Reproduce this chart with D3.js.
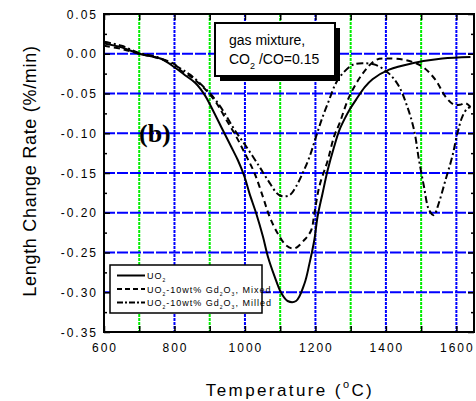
<!DOCTYPE html>
<html><head><meta charset="utf-8">
<script src="https://cdn.jsdelivr.net/npm/d3@7"></script>
<style>body{margin:0;background:#fff}svg{display:block}</style>
</head><body>
<svg id="chart" width="476" height="401"></svg>
<script>
// Axis ticks
const xTicks = [600, 800, 1000, 1200, 1400, 1600];
const xGridGreen = [700, 900, 1100, 1300, 1500];
const xGridBlue = [800, 1000, 1200, 1400, 1600];
const yTicks = [0.05, 0.00, -0.05, -0.10, -0.15, -0.20, -0.25, -0.30, -0.35];
const yGrid = [0.00, -0.05, -0.10, -0.15, -0.20, -0.25, -0.30];

// UO2 (solid)
const uo2Temp = [600, 650, 700, 760, 800, 830, 860, 886, 910, 937, 961, 980, 999, 1013, 1032, 1051, 1065, 1084, 1103, 1121, 1145, 1169, 1183, 1197, 1206, 1220, 1235, 1253, 1268, 1285, 1296, 1315, 1340, 1362, 1409, 1475, 1560, 1640];
const uo2Rate = [0.013, 0.008, 0.000, -0.006, -0.017, -0.027, -0.037, -0.052, -0.072, -0.096, -0.117, -0.134, -0.155, -0.176, -0.201, -0.230, -0.255, -0.280, -0.301, -0.311, -0.311, -0.289, -0.264, -0.234, -0.205, -0.176, -0.146, -0.117, -0.096, -0.080, -0.071, -0.058, -0.042, -0.032, -0.020, -0.012, -0.006, -0.004];

// UO2-10wt% Gd2O3, Mixed (dashed)
const mixTemp = [600, 650, 700, 750, 800, 815, 850, 890, 919, 947, 975, 1004, 1027, 1051, 1070, 1093, 1117, 1140, 1169, 1188, 1197, 1211, 1235, 1253, 1268, 1296, 1334, 1371, 1400, 1456, 1503, 1541, 1569, 1593, 1612, 1626, 1640];
const mixRate = [0.010, 0.006, 0.000, -0.005, -0.013, -0.020, -0.030, -0.046, -0.062, -0.083, -0.104, -0.129, -0.150, -0.180, -0.205, -0.226, -0.241, -0.245, -0.234, -0.222, -0.201, -0.167, -0.134, -0.104, -0.088, -0.054, -0.025, -0.008, -0.006, -0.008, -0.016, -0.033, -0.054, -0.064, -0.064, -0.062, -0.067];

// UO2-10wt% Gd2O3, Milled (dash-dot)
const milTemp = [600, 650, 700, 750, 815, 843, 872, 909, 937, 971, 1004, 1041, 1065, 1098, 1126, 1145, 1164, 1183, 1202, 1220, 1239, 1258, 1277, 1305, 1334, 1371, 1409, 1437, 1461, 1480, 1494, 1508, 1522, 1536, 1550, 1569, 1588, 1603, 1617, 1631, 1640];
const milRate = [0.015, 0.010, 0.001, -0.004, -0.018, -0.026, -0.037, -0.054, -0.071, -0.096, -0.117, -0.142, -0.159, -0.178, -0.178, -0.167, -0.150, -0.130, -0.104, -0.080, -0.058, -0.037, -0.025, -0.014, -0.012, -0.014, -0.025, -0.041, -0.067, -0.096, -0.134, -0.167, -0.196, -0.203, -0.188, -0.159, -0.130, -0.100, -0.079, -0.069, -0.067];

const margin = {left: 104, top: 14, right: 474, bottom: 332};
const svg = d3.select("#chart");
svg.append("rect").attr("width", 476).attr("height", 401).attr("fill", "#fff");

const x = d3.scaleLinear().domain([600, 1650]).range([margin.left, margin.right]);
const y = d3.scaleLinear().domain([-0.35, 0.05]).range([margin.bottom, margin.top]);

// Grid
const grid = svg.append("g");
grid.selectAll("line.gg").data(xGridGreen).join("line")
  .attr("x1", d => x(d)).attr("x2", d => x(d))
  .attr("y1", margin.top).attr("y2", margin.bottom)
  .attr("stroke", "#00ee00").attr("stroke-width", 2).attr("stroke-dasharray", "3,1");
grid.selectAll("line.gb").data(xGridBlue).join("line")
  .attr("x1", d => x(d)).attr("x2", d => x(d))
  .attr("y1", margin.top).attr("y2", margin.bottom)
  .attr("stroke", "#0000ff").attr("stroke-width", 2).attr("stroke-dasharray", "3,1");
grid.selectAll("line.h").data(yGrid).join("line")
  .attr("x1", margin.left).attr("x2", margin.right)
  .attr("y1", d => y(d)).attr("y2", d => y(d))
  .attr("stroke", "#0000ff").attr("stroke-width", 2).attr("stroke-dasharray", "11,2");

// Axes with inward ticks
const yMinor = d3.range(-0.325, 0.05, 0.05);
function tickAxis(axis, ticks, size) {
  return axis.tickValues(ticks).tickSize(size).tickFormat("");
}
svg.append("g").attr("transform", `translate(${margin.left},0)`)
  .call(tickAxis(d3.axisRight(y), yTicks, 6));
svg.append("g").attr("transform", `translate(${margin.left},0)`)
  .call(tickAxis(d3.axisRight(y), yMinor, 3));
svg.append("g").attr("transform", `translate(${margin.right},0)`)
  .call(tickAxis(d3.axisLeft(y), yTicks, 6));
svg.append("g").attr("transform", `translate(${margin.right},0)`)
  .call(tickAxis(d3.axisLeft(y), yMinor, 3));
svg.append("g").attr("transform", `translate(0,${margin.bottom})`)
  .call(tickAxis(d3.axisTop(x), d3.range(600, 1650, 100), 6));
svg.append("g").attr("transform", `translate(0,${margin.top})`)
  .call(tickAxis(d3.axisBottom(x), d3.range(600, 1650, 100), 6));
svg.selectAll(".domain").remove();
svg.selectAll(".tick line").attr("stroke", "#000").attr("stroke-width", 1.5);

// Tick labels
const tickFont = "'Liberation Sans', Arial, sans-serif";
svg.append("g").selectAll("text").data(yTicks).join("text")
  .attr("x", 98).attr("y", d => y(d) + 4.5)
  .attr("text-anchor", "end")
  .attr("font-family", tickFont).attr("font-size", 12).attr("letter-spacing", 2)
  .text(d => d3.format(".2f")(d).replace("−", "-"));
svg.append("g").selectAll("text").data(xTicks).join("text")
  .attr("x", d => x(d) + 1).attr("y", 352)
  .attr("text-anchor", "middle")
  .attr("font-family", tickFont).attr("font-size", 12).attr("letter-spacing", 2)
  .text(d => d);

// Curves
const line = d3.line().x(d => x(d[0])).y(d => y(d[1])).curve(d3.curveCatmullRom.alpha(0.5));
const series = [
  {temp: uo2Temp, rate: uo2Rate, dash: null},
  {temp: mixTemp, rate: mixRate, dash: "6,4"},
  {temp: milTemp, rate: milRate, dash: "7,3,2,3"}
];
svg.append("clipPath").attr("id", "plotclip").append("rect")
  .attr("x", margin.left).attr("y", margin.top)
  .attr("width", margin.right - margin.left).attr("height", margin.bottom - margin.top);
svg.append("g").attr("clip-path", "url(#plotclip)")
  .selectAll("path").data(series).join("path")
  .attr("d", s => line(d3.zip(s.temp, s.rate)))
  .attr("fill", "none").attr("stroke", "#000").attr("stroke-width", 2)
  .attr("stroke-dasharray", s => s.dash);

// Frame
svg.append("rect").attr("x", margin.left).attr("y", margin.top)
  .attr("width", margin.right - margin.left).attr("height", margin.bottom - margin.top)
  .attr("fill", "none").attr("stroke", "#000").attr("stroke-width", 2);

// Panel label
svg.append("text").attr("x", 139).attr("y", 142)
  .attr("font-family", "'Liberation Serif', 'Times New Roman', serif")
  .attr("font-weight", "bold").attr("font-size", 26).text("(b)");

// Gas mixture box with drop shadow
svg.append("rect").attr("x", 220).attr("y", 28).attr("width", 120).attr("height", 53).attr("fill", "#000");
svg.append("rect").attr("x", 215).attr("y", 23).attr("width", 120).attr("height", 53)
  .attr("fill", "#fff").attr("stroke", "#000").attr("stroke-width", 2);
const boxText = svg.append("g").attr("font-family", tickFont).attr("font-size", 14);
boxText.append("text").attr("x", 229).attr("y", 45).text("gas mixture,");
const co = boxText.append("text").attr("x", 229).attr("y", 64);
co.append("tspan").text("CO");
co.append("tspan").attr("font-size", 9).attr("dy", 5).text("2");
co.append("tspan").attr("dy", -5).text(" /CO=0.15");

// Legend
const legend = svg.append("g");
legend.append("rect").attr("x", 110).attr("y", 265).attr("width", 152).attr("height", 48)
  .attr("fill", "#fff").attr("stroke", "#000").attr("stroke-width", 1.5);
const legendRows = [
  {dash: null, parts: [["UO", 0], ["2", 1]]},
  {dash: "5,3", parts: [["UO", 0], ["2", 1], ["-10wt% Gd", 0], ["2", 1], ["O", 0], ["3", 1], [", Mixed", 0]]},
  {dash: "6,2,2,2", parts: [["UO", 0], ["2", 1], ["-10wt% Gd", 0], ["2", 1], ["O", 0], ["3", 1], [", Milled", 0]]}
];
const rowY = [275.5, 289, 302.5];
legendRows.forEach((r, i) => {
  legend.append("line").attr("x1", 117).attr("x2", 145).attr("y1", rowY[i]).attr("y2", rowY[i])
    .attr("stroke", "#000").attr("stroke-width", 2).attr("stroke-dasharray", r.dash);
  const t = legend.append("text").attr("x", 147).attr("y", rowY[i] + 3.5)
    .attr("font-family", tickFont).attr("font-size", 9).attr("letter-spacing", 1);
  let prevSub = 0;
  r.parts.forEach(([s, sub]) => {
    const ts = t.append("tspan").text(s);
    if (sub) ts.attr("font-size", 5).attr("dy", 3);
    else if (prevSub) ts.attr("dy", -3);
    prevSub = sub;
  });
});

// Axis titles
svg.append("text").attr("transform", "translate(36,171) rotate(-90)")
  .attr("text-anchor", "middle").attr("font-family", tickFont).attr("font-size", 18)
  .attr("letter-spacing", 0.7)
  .text("Length Change Rate (%/min)");
const xt = svg.append("text").attr("x", 290).attr("y", 396).attr("text-anchor", "middle")
  .attr("font-family", tickFont).attr("font-size", 17).attr("letter-spacing", 2.4);
xt.append("tspan").text("Temperature (");
xt.append("tspan").attr("font-size", 11).attr("dy", -8).text("o");
xt.append("tspan").attr("dy", 8).text("C)");
</script>
</body></html>
